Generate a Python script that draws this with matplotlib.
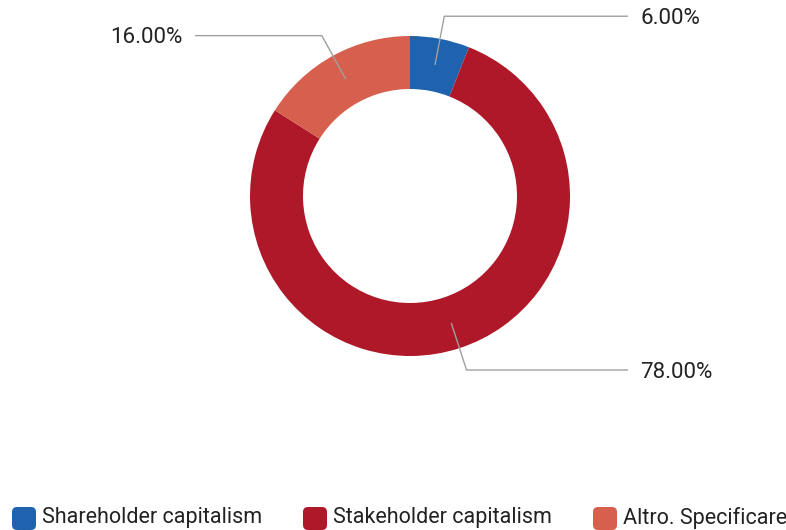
import matplotlib
matplotlib.use("Agg")
import matplotlib.pyplot as plt
from matplotlib.patches import FancyBboxPatch
import numpy as np

categories = ["Shareholder capitalism", "Stakeholder capitalism", "Altro. Specificare"]
values = [6.0, 78.0, 16.0]
colors = ["#1f63ae", "#af1829", "#d6604d"]

W, H = 786, 530
fig = plt.figure(figsize=(W / 100, H / 100), dpi=100)
ax = fig.add_axes([0, 0, 1, 1])

cx, cy = 410, H - 196
R, ring = 160, 53
wedges, _ = ax.pie(values, colors=colors, startangle=90, counterclock=False,
                   center=(cx, cy), radius=R,
                   wedgeprops=dict(width=ring, linewidth=0))
ax.set_xlim(0, W)
ax.set_ylim(0, H)
ax.set_aspect("auto")
ax.axis("off")

font = "Roboto"
total = sum(values)
rmid = R - ring / 2
relbow = 183
for w, v in zip(wedges, values):
    ang = np.deg2rad((w.theta1 + w.theta2) / 2)
    x0, y0 = cx + rmid * np.cos(ang), cy + rmid * np.sin(ang)
    x1, y1 = cx + relbow * np.cos(ang), cy + relbow * np.sin(ang)
    if np.cos(ang) >= 0:
        x2 = 628
        tx, ha = 640, "left"
    else:
        x2 = 195
        tx, ha = 183, "right"
    ax.plot([x0, x1, x2], [y0, y1, y1], color="#a0a0a0", lw=1, solid_capstyle="butt")
    ax.text(tx, y1 - 2, f"{v / total * 100:.2f}%", ha=ha, va="center",
            fontsize=16, family=font, color="#222222")

# legend
leg_x = [12, 303, 593]
for lx, c, lab in zip(leg_x, colors, categories):
    box = FancyBboxPatch((lx, H - 530), 24, 23, boxstyle="round,pad=0,rounding_size=5",
                         fc=c, ec="none")
    ax.add_patch(box)
    ax.text(lx + 30, H - 518, lab, ha="left", va="center", fontsize=15.5,
            family=font, color="#222222")

fig.savefig("out.png", dpi=100)
